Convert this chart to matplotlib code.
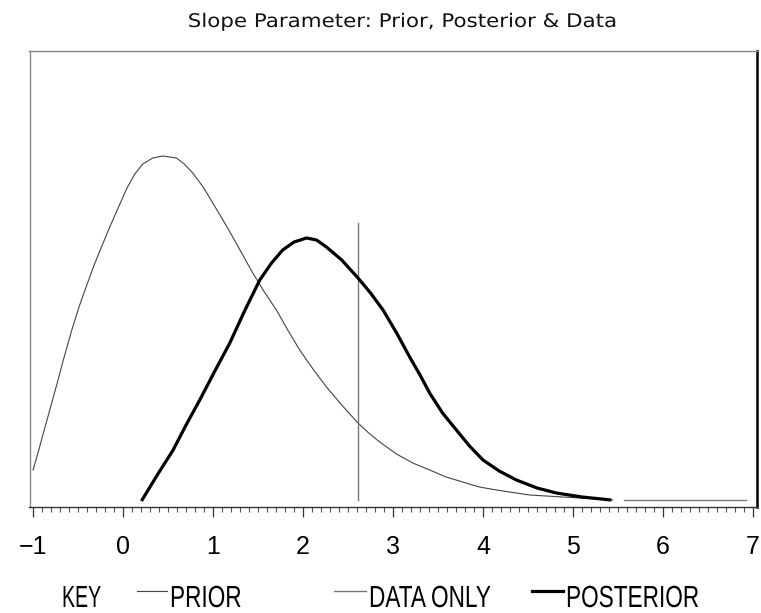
import numpy as np
import matplotlib
matplotlib.use('Agg')
import matplotlib.pyplot as plt
from matplotlib.lines import Line2D
from matplotlib.ticker import MultipleLocator
from matplotlib.transforms import Affine2D
from matplotlib import patheffects

# prior density
prior_x = [-1.0, -0.94, -0.889, -0.83, -0.778, -0.72, -0.667, -0.573, -0.49, -0.407,
           -0.33, -0.259, -0.148, -0.05, 0.038, 0.13, 0.219, 0.33, 0.441, 0.593,
           0.68, 0.774, 0.89, 0.997, 1.11, 1.219, 1.33, 1.441, 1.57, 1.704,
           1.83, 1.963, 2.11, 2.26, 2.43, 2.61, 2.73, 2.852, 3.038, 3.22,
           3.407, 3.59, 3.774, 3.96, 4.149, 4.519, 4.886, 5.441]
prior_y = [0.030, 0.049, 0.066, 0.085, 0.102, 0.121, 0.139, 0.169, 0.193, 0.214,
           0.233, 0.249, 0.273, 0.293, 0.311, 0.326, 0.336, 0.342, 0.344, 0.342,
           0.336, 0.327, 0.313, 0.297, 0.280, 0.263, 0.245, 0.227, 0.208, 0.190,
           0.170, 0.150, 0.131, 0.113, 0.095, 0.077, 0.067, 0.058, 0.046, 0.037,
           0.030, 0.023, 0.018, 0.013, 0.010, 0.005, 0.003, 0.0]

# posterior density
post_x = [0.204, 0.38, 0.556, 0.70, 0.852, 1.02, 1.186, 1.35, 1.519, 1.65,
          1.774, 1.90, 2.038, 2.15, 2.26, 2.43, 2.611, 2.75, 2.889, 3.04,
          3.185, 3.30, 3.407, 3.55, 3.704, 3.85, 4.0, 4.18, 4.371, 4.6,
          4.815, 5.1, 5.426]
post_y = [-0.001, 0.025, 0.050, 0.075, 0.100, 0.129, 0.157, 0.189, 0.220, 0.237,
          0.250, 0.258, 0.262, 0.260, 0.253, 0.240, 0.222, 0.207, 0.190, 0.167,
          0.143, 0.125, 0.107, 0.087, 0.070, 0.054, 0.040, 0.029, 0.020, 0.012,
          0.007, 0.003, 0.0]

# data only (spike at the estimate, flat elsewhere)
data_x = [2.61, 2.61, np.nan, 5.567, 6.919]
data_y = [0.0, 0.277, np.nan, 0.0, 0.0]

title = 'Slope Parameter: Prior, Posterior & Data'
xticks = [-1, 0, 1, 2, 3, 4, 5, 6, 7]
key_labels = ['PRIOR', 'DATA ONLY', 'POSTERIOR']


class HStretch(patheffects.AbstractPathEffect):
    # squeeze/widen glyphs horizontally around a fixed pixel x
    def __init__(self, sx, x0):
        super().__init__()
        self.sx = sx
        self.x0 = x0

    def draw_path(self, renderer, gc, tpath, affine, rgbFace=None):
        t = affine + Affine2D().translate(-self.x0, 0).scale(self.sx, 1).translate(self.x0, 0)
        renderer.draw_path(gc, tpath, t, rgbFace)


fig = plt.figure(figsize=(7.61, 6.13), dpi=100)
W, H = 761, 613
ax = fig.add_axes([29.5 / W, 1 - 507 / H, (757 - 29.5) / W, (507 - 50.7) / H])

ax.plot(prior_x, prior_y, color='#444444', lw=0.8)
ax.plot(data_x, data_y, color='#777777', lw=1.0)
ax.plot(post_x, post_y, color='black', lw=2.3, solid_capstyle='butt', solid_joinstyle='round')

ax.set_xlim(-1.04, 7.045)
ax.set_ylim(-0.007, 0.4493)
ax.set_yticks([])
ax.set_xticks(xticks)
ax.set_xticklabels(['\u2212' + str(-t) if t < 0 else str(t) for t in xticks],
                   fontsize=18, family=['Liberation Sans', 'DejaVu Sans'])
ax.xaxis.set_minor_locator(MultipleLocator(0.1))
ax.tick_params(axis='x', which='major', length=7, width=0.9, color='#333333', pad=13)
ax.tick_params(axis='x', which='minor', length=3.5, width=0.8, color='#555555')

for s in ['left', 'top']:
    ax.spines[s].set_color('#888888')
    ax.spines[s].set_linewidth(1.0)
ax.spines['bottom'].set_color('#333333')
ax.spines['bottom'].set_linewidth(1.0)
ax.spines['right'].set_color('black')
ax.spines['right'].set_linewidth(1.8)

fig.text(403 / W, 1 - 27 / H, title, ha='center', va='baseline',
         fontsize=13.5, family='DejaVu Sans', color='#111111',
         path_effects=[HStretch(1.14, 403)])

# key row
kb = 1 - 607 / H
fig.text(62 / W, kb, 'KEY', ha='left', va='baseline', fontsize=22,
         family='Liberation Sans', path_effects=[HStretch(0.64, 62)])
key_styles = [('#444444', 0.8, 137, 167), ('#777777', 1.0, 334, 366), ('black', 2.3, 532, 563)]
for lab, (c, lw, x0, x1) in zip(key_labels, key_styles):
    ly = 1 - 591 / H
    fig.add_artist(Line2D([x0 / W, x1 / W], [ly, ly], color=c, lw=lw, transform=fig.transFigure))
    fig.text((x1 + 3) / W, kb, lab, ha='left', va='baseline', fontsize=22,
             family='Liberation Sans', path_effects=[HStretch(0.74, x1 + 3)])

fig.savefig('out.png', dpi=100)
